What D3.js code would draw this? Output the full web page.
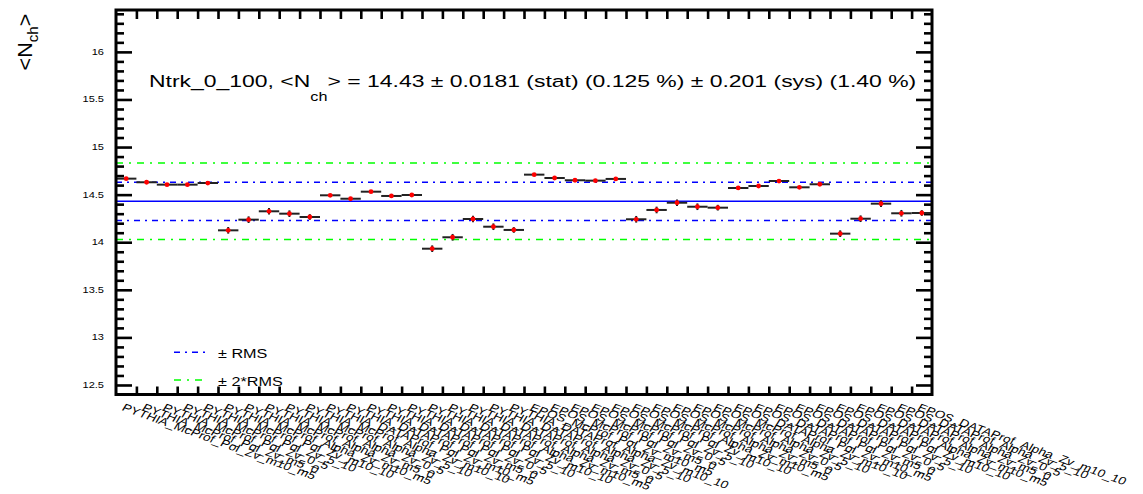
<!DOCTYPE html>
<html><head><meta charset="utf-8">
<script src="https://cdn.jsdelivr.net/npm/d3@7"></script>
<style>
body{margin:0;background:#fff}
svg{display:block}
text{font-family:"Liberation Sans",Arial,Helvetica,sans-serif;fill:#000}
</style>
</head><body>
<svg id="c" width="1143" height="494"></svg>
<script>
// ---------------- data ----------------
const categories = [
  "PYTHIA_McProf_Pol_Zv_m10_m5","PYTHIA_McProf_Pol_Zv_m5_0","PYTHIA_McProf_Pol_Zv_0_5","PYTHIA_McProf_Pol_Zv_5_10","PYTHIA_McProf_Pol_Zv_m10_10",
  "PYTHIA_McProf_Alpha_Zv_m10_m5","PYTHIA_McProf_Alpha_Zv_m5_0","PYTHIA_McProf_Alpha_Zv_0_5","PYTHIA_McProf_Alpha_Zv_5_10","PYTHIA_McProf_Alpha_Zv_m10_10",
  "PYTHIA_DATAProf_Pol_Zv_m10_m5","PYTHIA_DATAProf_Pol_Zv_m5_0","PYTHIA_DATAProf_Pol_Zv_0_5","PYTHIA_DATAProf_Pol_Zv_5_10","PYTHIA_DATAProf_Pol_Zv_m10_10",
  "PYTHIA_DATAProf_Alpha_Zv_m10_m5","PYTHIA_DATAProf_Alpha_Zv_m5_0","PYTHIA_DATAProf_Alpha_Zv_0_5","PYTHIA_DATAProf_Alpha_Zv_5_10","PYTHIA_DATAProf_Alpha_Zv_m10_10",
  "EPOS_McProf_Pol_Zv_m10_m5","EPOS_McProf_Pol_Zv_m5_0","EPOS_McProf_Pol_Zv_0_5","EPOS_McProf_Pol_Zv_5_10","EPOS_McProf_Pol_Zv_m10_10",
  "EPOS_McProf_Alpha_Zv_m10_m5","EPOS_McProf_Alpha_Zv_m5_0","EPOS_McProf_Alpha_Zv_0_5","EPOS_McProf_Alpha_Zv_5_10","EPOS_McProf_Alpha_Zv_m10_10",
  "EPOS_DATAProf_Pol_Zv_m10_m5","EPOS_DATAProf_Pol_Zv_m5_0","EPOS_DATAProf_Pol_Zv_0_5","EPOS_DATAProf_Pol_Zv_5_10","EPOS_DATAProf_Pol_Zv_m10_10",
  "EPOS_DATAProf_Alpha_Zv_m10_m5","EPOS_DATAProf_Alpha_Zv_m5_0","EPOS_DATAProf_Alpha_Zv_0_5","EPOS_DATAProf_Alpha_Zv_5_10","EPOS_DATAProf_Alpha_Zv_m10_10"
];
const values = [
  14.668,14.630,14.605,14.605,14.622,
  14.125,14.237,14.325,14.300,14.265,
  14.493,14.457,14.531,14.486,14.496,
  13.932,14.052,14.244,14.163,14.129,
  14.710,14.675,14.651,14.647,14.665,
  14.241,14.339,14.415,14.373,14.363,
  14.570,14.591,14.643,14.577,14.609,
  14.090,14.247,14.405,14.304,14.307
];
const statErrors = [
  0.012,0.012,0.012,0.012,0.010,
  0.035,0.035,0.035,0.035,0.030,
  0.012,0.012,0.012,0.012,0.010,
  0.035,0.035,0.035,0.035,0.030,
  0.012,0.012,0.012,0.012,0.010,
  0.035,0.035,0.035,0.035,0.030,
  0.012,0.012,0.012,0.012,0.010,
  0.035,0.035,0.035,0.035,0.030
];
const meanValue = 14.43;
const rmsValue = 0.201;
const yMajorTicks = [12.5,13,13.5,14,14.5,15,15.5,16];
const yTickLabels = ["12.5","13","13.5","14","14.5","15","15.5","16"];
const legendLabels = ["\u00B1 RMS","\u00B1 2*RMS"];
const titleParts = ["Ntrk_0_100, <N","ch","> = 14.43 \u00B1 0.0181 (stat) (0.125 %) \u00B1 0.201 (sys) (1.40 %)"];
const yTitleParts = ["<N","ch",">"];

// ---------------- layout ----------------
const X0 = 116, X1 = 932, Y0 = 10, Y1 = 394.5;
const svg = d3.select("#c");
const xb = d3.scaleBand().domain(d3.range(categories.length)).range([X0, X1]).padding(0);
const xl = d3.scaleLinear().domain([0, categories.length]).range([X0, X1]);
const y = d3.scaleLinear().domain([12.40, 16.44]).range([Y1, Y0]);
const SX = 1.3;

const minorY = d3.range(125, 165).map(d => d / 10).filter(v => !yMajorTicks.includes(v));
const binEdges = d3.range(1, categories.length);

function styleAxis(g){
  g.select(".domain").remove();
  g.selectAll(".tick line").attr("stroke","#000").attr("stroke-width",2.6);
  g.selectAll(".tick text").remove();
}
// left axis
svg.append("g").attr("transform",`translate(${X0},0)`)
  .call(d3.axisLeft(y).tickValues(yMajorTicks).tickSize(-16)).call(styleAxis);
svg.append("g").attr("transform",`translate(${X0},0)`)
  .call(d3.axisLeft(y).tickValues(minorY).tickSize(-8)).call(styleAxis);
// right axis
svg.append("g").attr("transform",`translate(${X1},0)`)
  .call(d3.axisRight(y).tickValues(yMajorTicks).tickSize(-16)).call(styleAxis);
svg.append("g").attr("transform",`translate(${X1},0)`)
  .call(d3.axisRight(y).tickValues(minorY).tickSize(-8)).call(styleAxis);
// bottom & top
svg.append("g").attr("transform",`translate(0,${Y1})`)
  .call(d3.axisBottom(xl).tickValues(binEdges).tickSize(-8)).call(styleAxis);
svg.append("g").attr("transform",`translate(0,${Y0})`)
  .call(d3.axisTop(xl).tickValues(binEdges).tickSize(-9)).call(styleAxis);

// y tick labels
svg.append("g").selectAll("g").data(yMajorTicks).join("g")
  .attr("transform",(d)=>`translate(104,${y(d)+3}) scale(${SX},1)`)
  .append("text").attr("text-anchor","end").attr("font-size",8.5)
  .text((d,i)=>yTickLabels[i]);

// reference lines
const refLines = [
  {v: meanValue, color:"#0000ff", dash:null, w:1.5},
  {v: meanValue + rmsValue, color:"#0000ff", dash:"6,5,2,5", w:1.5},
  {v: meanValue - rmsValue, color:"#0000ff", dash:"6,5,2,5", w:1.5},
  {v: meanValue + 2*rmsValue, color:"#00ff00", dash:"7,6,2,6", w:1.5},
  {v: meanValue - 2*rmsValue, color:"#00ff00", dash:"7,6,2,6", w:1.5}
];
svg.append("g").selectAll("line").data(refLines).join("line")
  .attr("x1",X0).attr("x2",X1)
  .attr("y1",d=>y(d.v)).attr("y2",d=>y(d.v))
  .attr("stroke",d=>d.color).attr("stroke-width",d=>d.w)
  .attr("stroke-dasharray",d=>d.dash);

// data: horizontal bin bars, vertical error bars, markers
const pts = svg.append("g");
pts.selectAll("line.h").data(values).join("line").attr("class","h")
  .attr("x1",(d,i)=>xb(i)).attr("x2",(d,i)=>xb(i)+xb.bandwidth())
  .attr("y1",d=>y(d)).attr("y2",d=>y(d))
  .attr("stroke","#222").attr("stroke-width",2);
pts.selectAll("line.v").data(values).join("line").attr("class","v")
  .attr("x1",(d,i)=>xb(i)+xb.bandwidth()/2).attr("x2",(d,i)=>xb(i)+xb.bandwidth()/2)
  .attr("y1",(d,i)=>y(d+statErrors[i])).attr("y2",(d,i)=>y(d-statErrors[i]))
  .attr("stroke","#222").attr("stroke-width",2);
pts.selectAll("circle").data(values).join("circle")
  .attr("cx",(d,i)=>xb(i)+xb.bandwidth()/2).attr("cy",d=>y(d))
  .attr("r",2.4).attr("fill","#ff0000");

// frame
svg.append("rect").attr("x",X0).attr("y",Y0).attr("width",X1-X0).attr("height",Y1-Y0)
  .attr("fill","none").attr("stroke","#000").attr("stroke-width",3);

// x category labels
svg.append("g").selectAll("g").data(categories).join("g")
  .attr("transform",(d,i)=>`translate(${xb(i)+xb.bandwidth()/2-1},403) scale(${SX},1) rotate(25.3)`)
  .append("text").attr("font-size",10.6).attr("dy","0.72em").text(d=>d);

// title
const tg = svg.append("g").attr("transform",`translate(149,87.3) scale(1.35,1)`);
const tt = tg.append("text").attr("font-size",17);
tt.append("tspan").text(titleParts[0]);
tt.append("tspan").attr("font-size",12).attr("dy",14).text(titleParts[1]);
tt.append("tspan").attr("dy",-14).text(titleParts[2]);

// y title
const yg = svg.append("g").attr("transform",`translate(32,42) rotate(-90) scale(1.08,1)`);
const yt = yg.append("text").attr("font-size",20).attr("text-anchor","middle");
yt.append("tspan").text(yTitleParts[0]);
yt.append("tspan").attr("font-size",14).attr("dy",6).text(yTitleParts[1]);
yt.append("tspan").attr("dy",-6).text(yTitleParts[2]);

// legend
const legend = [
  {label: legendLabels[0], color:"#0000ff", dash:"6,5,2,5", yy:352.3, ty:358},
  {label: legendLabels[1], color:"#00ff00", dash:"7,6,2,6", yy:380, ty:385.5}
];
const lg = svg.append("g");
lg.selectAll("line").data(legend).join("line")
  .attr("x1",174).attr("x2",205).attr("y1",d=>d.yy).attr("y2",d=>d.yy)
  .attr("stroke",d=>d.color).attr("stroke-width",1.5).attr("stroke-dasharray",d=>d.dash);
lg.selectAll("g").data(legend).join("g")
  .attr("transform",d=>`translate(218,${d.ty}) scale(1.2,1)`)
  .append("text").attr("font-size",13.5).text(d=>d.label);
</script>
</body></html>
